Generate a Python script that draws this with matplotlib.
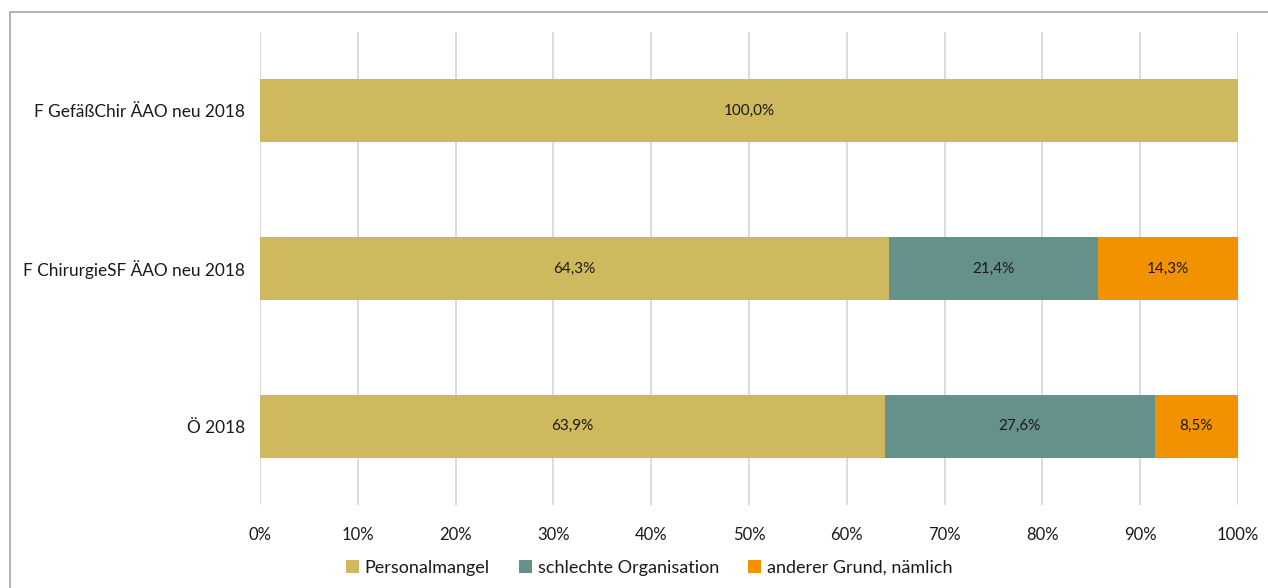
import matplotlib
matplotlib.use("Agg")
import matplotlib.pyplot as plt
from matplotlib.patches import Rectangle

categories = ["F GefäßChir ÄAO neu 2018", "F ChirurgieSF ÄAO neu 2018", "Ö 2018"]
series_names = ["Personalmangel", "schlechte Organisation", "anderer Grund, nämlich"]
personalmangel = [100.0, 64.3, 63.9]
schlechte_org = [0.0, 21.4, 27.6]
anderer_grund = [0.0, 14.3, 8.5]
colors = ["#CFB95E", "#66918A", "#F39200"]
xticks = [0, 10, 20, 30, 40, 50, 60, 70, 80, 90, 100]

plt.rcParams['font.family'] = ['Lato', 'DejaVu Sans']

W, H = 1268, 588
fig = plt.figure(figsize=(W/100, H/100), dpi=100)
ax = fig.add_axes([260/W, 1-505/H, (1238-260)/W, (505-32)/H])

ypos = list(range(len(categories)))
left = [0.0]*len(categories)
for name, vals, c in zip(series_names, [personalmangel, schlechte_org, anderer_grund], colors):
    ax.barh(ypos, vals, left=left, height=0.4, color=c, label=name, zorder=2)
    for y, l, v in zip(ypos, left, vals):
        if v > 0:
            ax.text(l + v/2, y, f"{v:.1f}%".replace(".", ","), ha="center", va="center",
                    fontsize=11, color="#1a1a1a", zorder=3)
    left = [a+b for a, b in zip(left, vals)]

ax.set_xlim(0, 100)
ax.set_ylim(len(categories)-0.5, -0.5)
ax.set_yticks(ypos)
ax.set_yticklabels(categories, fontsize=12.4, color="#1a1a1a")
ax.set_xticks(xticks)
ax.set_xticklabels([f"{t}%" for t in xticks], fontsize=12, color="#1a1a1a")
ax.tick_params(axis="both", length=0)
ax.tick_params(axis="y", pad=11)
ax.tick_params(axis="x", pad=16)
ax.grid(axis="x", color="#D9D9D9", linewidth=1.3, zorder=0)
for s in ax.spines.values():
    s.set_visible(False)

leg = fig.legend(loc="center", bbox_to_anchor=(649/W, 1-568/H), ncol=3, frameon=False,
                 fontsize=13, handlelength=0.75, handleheight=0.75, handletextpad=0.3,
                 columnspacing=1.6)
for t in leg.get_texts():
    t.set_color("#1a1a1a")

fig.patches.append(Rectangle((10/W, -0.1), 1.2, 1-12/H+0.1, transform=fig.transFigure,
                             fill=False, edgecolor="#A6A6A6", linewidth=1.2))
fig.savefig("out.png", dpi=100)
